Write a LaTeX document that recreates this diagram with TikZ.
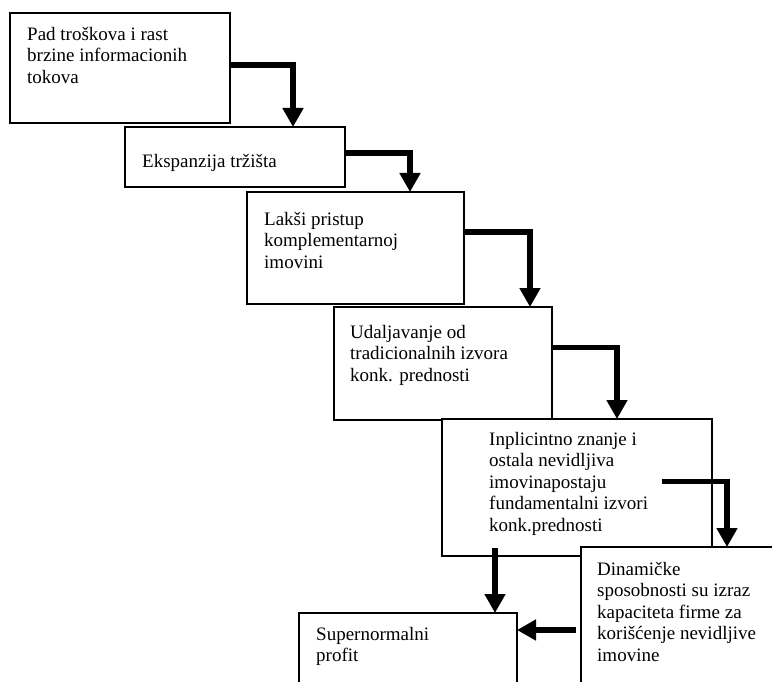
\documentclass[tikz,border=0pt]{standalone}
\usepackage{fontspec}
\setmainfont{Liberation Serif}
\usetikzlibrary{arrows.meta}
\begin{document}
\begin{tikzpicture}[x=1pt,y=-1pt,
  stage/.style={draw,fill=white,line width=1.3pt,inner sep=0pt,outer sep=0pt,anchor=north west},
  label/.style={anchor=north west,inner sep=0pt,align=left,font=\fontsize{19}{21.5}\selectfont},
  flow/.style={line width=5.5pt,line join=miter,-{Triangle[width=20pt,length=19pt]}}]
\clip (0,0) rectangle (772,682);
\fill[white] (0,0) rectangle (772,682);

% stages, each one stepping down and to the right
\node[stage,minimum width=220pt,minimum height=110pt] (b1) at (10,13) {};
\node[stage,minimum width=220pt,minimum height=60pt]  (b2) at (125,127) {};
\node[stage,minimum width=217pt,minimum height=112pt] (b3) at (247,192) {};
\node[stage,minimum width=218pt,minimum height=113pt] (b4) at (334,307) {};
\node[stage,minimum width=270pt,minimum height=137pt] (b5) at (442,419) {};
\node[stage,minimum width=220pt,minimum height=160pt] (b6) at (581,547) {};
\node[stage,minimum width=218pt,minimum height=100pt] (b7) at (299,613) {};

% texts of the stages (top of the first line)
\node[label] (t1) at (27,27)   {Pad troškova i rast\\brzine informacionih\\tokova};
\node[label] (t2) at (142,154) {Ekspanzija tržišta};
\node[label] (t3) at (264,212) {Lakši pristup\\komplementarnoj\\imovini};
\node[label] (t4) at (350,325) {Udaljavanje od\\tradicionalnih izvora\\konk. prednosti};
\node[label] (t5) at (489,432) {Inplicintno znanje i\\ostala nevidljiva\\imovinapostaju\\fundamentalni izvori\\konk.prednosti};
\node[label] (t6) at (597,562) {Dinamičke\\sposobnosti su izraz\\kapaciteta firme za\\korišćenje nevidljive\\imovine};
\node[label] (t7) at (316,627) {Supernormalni\\profit};

% connectors
\draw[flow] ([yshift=3pt]b1.east) -| ([xshift=168pt]b2.north west);
\draw[flow] ([yshift=4pt]b2.east) -| ([xshift=163pt]b3.north west);
\draw[flow] ([yshift=16pt]b3.east) -| ([xshift=196pt]b4.north west);
\draw[flow] ([yshift=16pt]b4.east) -| ([xshift=175pt]b5.north west);
\coordinate (s5) at ([xshift=-50pt,yshift=6pt]b5.east);
\draw[flow] (s5) -| ([xshift=146pt]b6.north west);
\coordinate (s6) at ([xshift=53pt,yshift=8pt]b5.south west);
\draw[flow] (s6) -- (s6 |- b7.north);
\coordinate (s7) at ([xshift=-5pt,yshift=-3pt]b6.west);
\draw[flow] (s7) -- (s7 -| b7.east);
\end{tikzpicture}
\end{document}
